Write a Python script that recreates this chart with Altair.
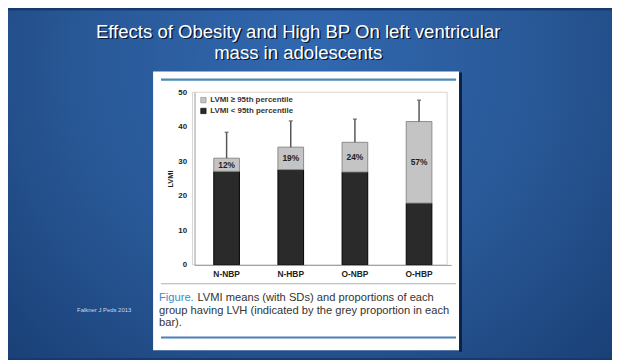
import altair as alt
import pandas as pd

# ---- data ----
categories = ["N-NBP", "N-HBP", "O-NBP", "O-HBP"]
below95 = [27.1, 27.6, 26.9, 17.9]      # dark segment (LVMI < 95th pct)
mean_lvmi = [30.9, 34.1, 35.5, 41.5]    # bar total (mean LVMI)
sd_top = [38.4, 41.7, 42.2, 47.7]       # mean + SD
lvh_pct = ["12%", "19%", "24%", "57%"]
y_ticks = [0, 10, 20, 30, 40, 50]

LEG_HIGH = "LVMI \u2265 95th percentile"
LEG_LOW = "LVMI < 95th percentile"

title_lines = ["Effects of Obesity and High BP On left ventricular", "mass in adolescents"]
caption_lead = "Figure."
caption_lines = ["LVMI means (with SDs) and proportions of each",
                 "group having LVH (indicated by the grey proportion in each",
                 "bar)."]
citation = "Falkner   J Peds 2013"

FONT = "Liberation Sans"
W, H = 260, 175

seg_rows = []
for c, d, t in zip(categories, below95, mean_lvmi):
    seg_rows.append({"group": c, "segment": LEG_LOW, "y0": 0.0, "y1": d})
    seg_rows.append({"group": c, "segment": LEG_HIGH, "y0": d, "y1": t})
segs = pd.DataFrame(seg_rows)

summary = pd.DataFrame({"group": categories, "below": below95, "mean": mean_lvmi,
                        "sd_top": sd_top, "pct": lvh_pct})
summary["mid"] = (summary["below"] + summary["mean"]) / 2

xenc = alt.X("group:N", sort=categories,
             scale=alt.Scale(paddingInner=0.6, paddingOuter=0.3),
             axis=alt.Axis(title=None, labelAngle=0, labelFont=FONT, labelFontSize=8.5,
                           labelFontWeight="bold", labelColor="#222222", ticks=False,
                           domainColor="#9a9a9a", labelPadding=5, zindex=1))
yscale = alt.Scale(domain=[0, 50], nice=False)
yaxis = alt.Axis(title="LVMI", values=y_ticks, grid=False, ticks=False, labelFont=FONT,
                 labelFontSize=8, labelFontWeight="bold", labelColor="#222222",
                 labelPadding=8, domainColor="#9a9a9a", titleFont=FONT, titleFontSize=7.5,
                 titleFontWeight="bold", titleColor="#222222", titlePadding=3, zindex=1)

one = pd.DataFrame({"k": [0]})


def deco_rect(x, x2, y, y2, **mark):
    return alt.Chart(one).mark_rect(**mark).encode(
        x=alt.value(x), x2=alt.value(x2), y=alt.value(y), y2=alt.value(y2))


def deco_text(x, y, text, **mark):
    return alt.Chart(one).mark_text(**mark).encode(
        x=alt.value(x), y=alt.value(y), text=alt.value(text))


bg = deco_rect(-189, 423, -83, 269, fill=alt.RadialGradient(
    gradient="radial", x1=0.5, y1=0.3, x2=0.5, y2=0.3, r1=0, r2=0.8,
    stops=[alt.GradientStop(offset=0, color="#3168b0"),
           alt.GradientStop(offset=0.5, color="#285795"),
           alt.GradientStop(offset=1, color="#15386c")]))
shadow = deco_rect(268, 271, -20, 263, color="#0d2145")
panel = deco_rect(-42, 268, -21, 261.5, color="#ffffff")
top_rule = deco_rect(-34, 265, -14, -11.5, color="#4a8ab8")
sep_rule = deco_rect(-34, 265, 193.5, 194.5, color="#b0b0b0")
bot_rule = deco_rect(-34, 265, 247.5, 249.5, color="#4a7fb8")
frame = deco_rect(-2, 256, 0, H, fill=None, filled=False, stroke="#d4d4d4", strokeWidth=1)

title_layers = []
for i, line in enumerate(title_lines):
    yy = -61 + 21 * i
    title_layers.append(deco_text(106.5, yy + 1.5, line, font=FONT, fontSize=18.8,
                                  color="#0a1a35", align="center", baseline="middle"))
    title_layers.append(deco_text(105, yy, line, font=FONT, fontSize=18.8,
                                  color="#ffffff", align="center", baseline="middle"))

CAP_FS = 11.3
cap_layers = [deco_text(-36, 209, caption_lead, font=FONT, fontSize=CAP_FS, color="#3b8cc8",
                        align="left", baseline="middle")]
cap_layers.append(deco_text(3, 209, caption_lines[0], font=FONT, fontSize=CAP_FS,
                            color="#333333", align="left", baseline="middle"))
cap_layers.append(deco_text(-36, 222, caption_lines[1], font=FONT, fontSize=CAP_FS,
                            color="#333333", align="left", baseline="middle"))
cap_layers.append(deco_text(-36, 234, caption_lines[2], font=FONT, fontSize=CAP_FS,
                            color="#333333", align="left", baseline="middle"))
cite = deco_text(-119, 221, citation, font=FONT, fontSize=6, color="#c9d8ee",
                 align="left", baseline="middle")

bars = alt.Chart(segs).mark_bar(strokeWidth=1).encode(
    x=xenc,
    y=alt.Y("y1:Q", scale=yscale, axis=yaxis),
    y2="y0:Q",
    color=alt.Color("segment:N",
                    scale=alt.Scale(domain=[LEG_HIGH, LEG_LOW], range=["#c4c4c4", "#2a2a2a"]),
                    legend=alt.Legend(title=None, orient="none", legendX=5, legendY=4,
                                      labelFont=FONT, labelFontSize=8, labelFontWeight="bold",
                                      labelColor="#333333", symbolType="square", symbolSize=30,
                                      symbolStrokeColor="#555555", symbolStrokeWidth=0.6,
                                      rowPadding=3, padding=0, labelOffset=3)),
    stroke=alt.Stroke("segment:N",
                      scale=alt.Scale(domain=[LEG_HIGH, LEG_LOW], range=["#8a8a8a", "#000000"]),
                      legend=None),
)

err = alt.Chart(summary).mark_rule(color="#555555", strokeWidth=1.5).encode(
    x=xenc, y=alt.Y("mean:Q", scale=yscale, axis=yaxis), y2="sd_top:Q")
cap = alt.Chart(summary).mark_tick(color="#555555", thickness=1.5, size=4).encode(
    x=xenc, y=alt.Y("sd_top:Q", scale=yscale, axis=yaxis))
labels = alt.Chart(summary).mark_text(font=FONT, fontSize=8.5, fontWeight="bold",
                                      color="#222222").encode(
    x=xenc, y=alt.Y("mid:Q", scale=yscale, axis=yaxis), text="pct:N")

chart = alt.layer(
    bg, shadow, panel, top_rule, sep_rule, bot_rule, frame,
    *title_layers, *cap_layers, cite,
    bars, err, cap, labels,
).properties(
    width=W, height=H,
    padding={"left": 189, "top": 83, "right": 163, "bottom": 94},
    autosize=alt.AutoSizeParams(type="none"),
    background="#173a6e",
).configure_view(stroke=None)

chart.save("out.html", embed_options={"renderer": "svg", "actions": False})
